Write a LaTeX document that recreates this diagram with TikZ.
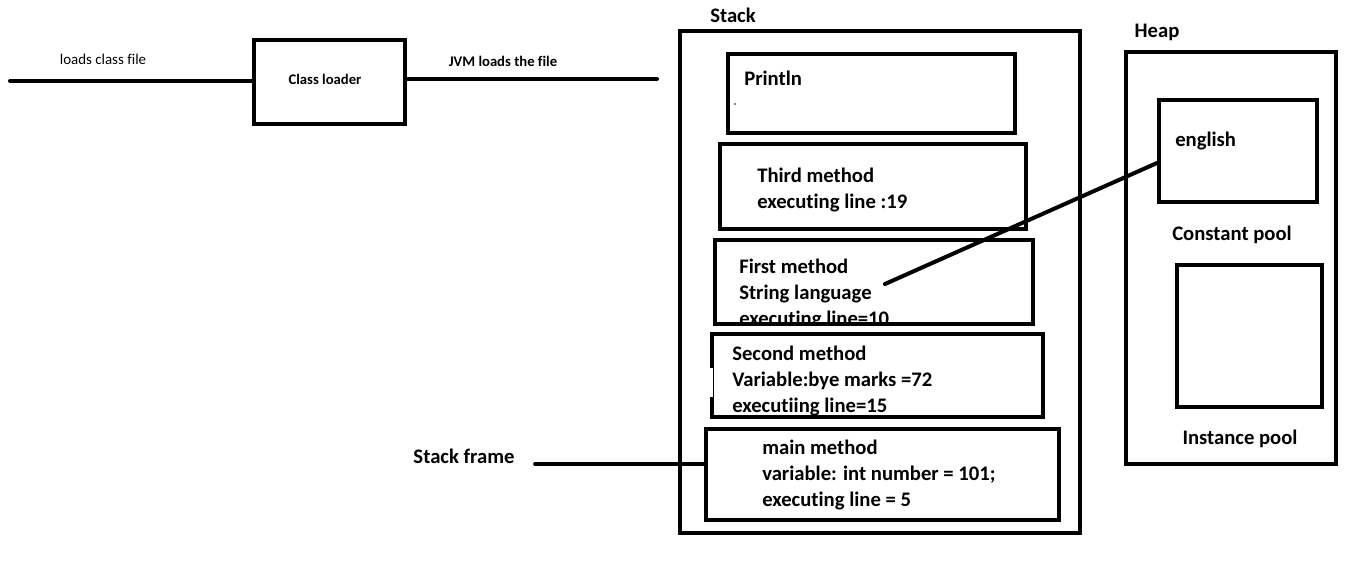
\documentclass[tikz,border=0pt]{standalone}
\usepackage{fontspec}
\setmainfont{Carlito}[Ligatures=NoCommon]
\usetikzlibrary{fit}
\begin{document}
\begin{tikzpicture}[x=0.75pt,y=-0.75pt,
  box/.style={draw, line width=3pt, inner sep=0pt},
  conn/.style={line width=3pt, line cap=round},
  lbl/.style={font=\fontsize{15.5}{19.5}\selectfont\bfseries, inner sep=0pt, align=left},
  small/.style={font=\fontsize{11.2}{13}\selectfont, inner sep=0pt},
  smallb/.style={font=\fontsize{11}{13}\selectfont\bfseries, inner sep=0pt}]
\useasboundingbox[fill=white] (0,0) rectangle (1360,570);

% class loader
\node[box, fit={(254,40) (405,124)}] (cl) {};
\node[smallb] (cltxt) at (325,79) {Class loader};
\node[small] (loads) at (103,59) {loads class file};
\node[smallb] (jvm) at (503,61) {JVM loads the file};
\coordinate (src) at (10,81);
\coordinate (dst) at (657,79);
\draw[conn] (src) -- (src -| cl.west);
\draw[conn] (dst -| cl.east) -- (dst);

% stack
\node[lbl] (stacklbl) at (733,15) {Stack};
\node[box, fit={(680,31) (1080,533)}] (stack) {};

\node[box, fit={(728,54) (1015,133)}] (println) {};
\node[lbl, anchor=west] (printlntxt) at (744,78) {Println};
\fill (735,104) circle (0.8);

\node[box, fit={(720,144) (1026,229)}] (third) {};
\node[lbl, anchor=west] (thirdtxt) at (757,190) {Third method\\executing line :19};

\begin{scope}
\clip (715,240) rectangle (1033,322);
\node[lbl, anchor=west] (firsttxt) at (739,294) {First method\\String language\\executing line=10};
\end{scope}
\node[box, fit={(715,240) (1033,324)}] (first) {};

\node[box, fit={(712,334) (1043,417)}] (second) {};
\fill[white] (709.5,368) rectangle (712.5,397);
\node[lbl, anchor=west] (secondtxt) at (732,381) {Second method\\Variable:bye marks =72\\executiing line=15};

\node[box, fit={(706,429) (1059,520)}] (main) {};
\node[lbl, anchor=west] (maintxt) at (762,475) {main method\\variable: int number = 101;\\executing line = 5};

\node[lbl] (sflbl) at (464,456) {Stack frame};
\coordinate (sf) at (535,464);
\draw[conn] (sf) -- (sf -| main.west);

% heap
\node[lbl] (heaplbl) at (1157,32) {Heap};
\node[box, fit={(1126,52) (1336,464)}] (heap) {};
\node[box, fit={(1159,100) (1317,202)}] (const) {};
\node[lbl, anchor=west] (eng) at (1175,141) {english};
\node[lbl] (constlbl) at (1232,235) {Constant pool};
\node[box, fit={(1177,265) (1322,407)}] (inst) {};
\node[lbl] (instlbl) at (1240,439) {Instance pool};

\coordinate (lang) at (885,284);
\draw[conn] (lang) -- (const.west |- 0,163);
\end{tikzpicture}
\end{document}
